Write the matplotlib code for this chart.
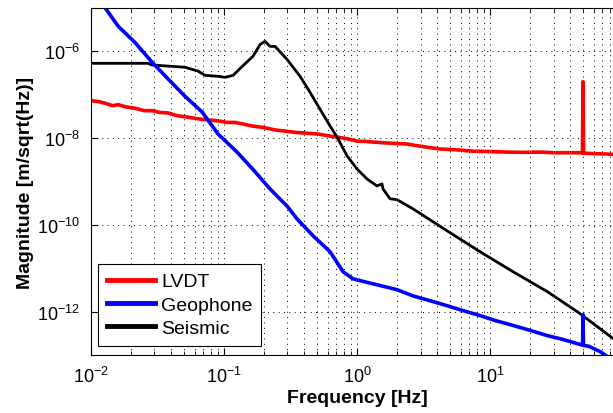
import matplotlib.pyplot as plt
from matplotlib.ticker import LogLocator, NullFormatter, NullLocator

plt.rcParams['font.family'] = ['Liberation Sans', 'DejaVu Sans']

# LVDT noise (red)
lvdt_f = [0.0100, 0.0115, 0.0127, 0.0145, 0.0160, 0.0185, 0.0214, 0.0250, 0.0288,
          0.0330, 0.0380, 0.0440, 0.0509, 0.0590, 0.0684, 0.0790, 0.0902, 0.105,
          0.121, 0.140, 0.163, 0.200, 0.240, 0.288, 0.350, 0.420, 0.509, 0.620,
          0.745, 0.870, 1.00, 1.15, 1.32, 1.70, 2.38, 3.10, 4.21, 5.50, 7.45,
          10.0, 13.4, 17.5, 23.8, 31.0, 42.1, 49.5, 50.0, 50.5, 60.0, 75.9, 100.0]
lvdt_m = [7.3e-8, 6.9e-8, 6.4e-8, 5.6e-8, 5.9e-8, 5.2e-8, 4.9e-8, 4.3e-8, 4.3e-8,
          3.9e-8, 3.8e-8, 3.3e-8, 3.1e-8, 2.9e-8, 2.7e-8, 2.6e-8, 2.5e-8, 2.3e-8,
          2.3e-8, 2.1e-8, 1.9e-8, 1.75e-8, 1.55e-8, 1.45e-8, 1.35e-8, 1.3e-8, 1.24e-8, 1.12e-8,
          1.03e-8, 9.5e-9, 8.5e-9, 8.4e-9, 8.1e-9, 7.7e-9, 7.3e-9, 6.4e-9, 5.6e-9, 5.4e-9, 5.0e-9,
          4.9e-9, 4.76e-9, 4.7e-9, 4.76e-9, 4.6e-9, 4.6e-9, 4.6e-9, 2.0e-7, 4.5e-9, 4.4e-9, 4.3e-9, 4.1e-9]

# Geophone noise (blue)
geo_f = [0.0100, 0.0127, 0.0160, 0.0214, 0.0288, 0.0380, 0.0509, 0.0684, 0.0902,
         0.125, 0.165, 0.222, 0.298, 0.354, 0.467, 0.627, 0.785, 0.933, 1.20,
         1.49, 2.00, 2.64, 3.50, 4.75, 6.30, 8.41, 11.0, 14.9, 20.0, 26.9, 35.0,
         47.5, 49.6, 50.0, 50.4, 55.0, 67.1, 75.9, 100.0]
geo_m = [2.4e-5, 1.03e-5, 3.8e-6, 1.6e-6, 5.6e-7, 2.3e-7, 9.2e-8, 4.0e-8, 1.24e-8,
         4.8e-9, 1.9e-9, 6.7e-10, 2.7e-10, 1.37e-10, 5.6e-11, 2.4e-11, 8.3e-12, 5.7e-12, 4.7e-12,
         4.0e-12, 3.2e-12, 2.3e-12, 1.8e-12, 1.37e-12, 1.05e-12, 8.1e-13, 6.2e-13, 4.8e-13, 3.7e-13, 2.8e-13, 2.3e-13,
         1.75e-13, 1.7e-13, 8.5e-13, 1.65e-13, 1.6e-13, 1.2e-13, 9.3e-14, 7.0e-14]

# Seismic spectrum (black)
seis_f = [0.0100, 0.0268, 0.0288, 0.0509, 0.0638, 0.0720, 0.0902, 0.102, 0.117,
          0.137, 0.165, 0.187, 0.203, 0.222, 0.242, 0.298, 0.373, 0.443, 0.528,
          0.627, 0.708, 0.841, 1.00, 1.19, 1.41, 1.54, 1.57, 1.77, 2.00, 2.64,
          4.75, 8.41, 14.9, 26.9, 47.5, 84.1, 100.0]
seis_m = [5.3e-7, 5.3e-7, 4.85e-7, 4.3e-7, 3.5e-7, 2.8e-7, 2.66e-7, 2.52e-7, 2.8e-7,
          4.5e-7, 7.7e-7, 1.45e-6, 1.7e-6, 1.3e-6, 1.3e-6, 6.5e-7, 2.66e-7, 1.14e-7, 4.6e-8,
          1.9e-8, 1.05e-8, 3.9e-9, 1.94e-9, 1.14e-9, 7.9e-10, 8.8e-10, 6.7e-10, 4.0e-10, 3.8e-10, 2.33e-10,
          7.3e-11, 2.4e-11, 8.3e-12, 2.9e-12, 9.0e-13, 2.4e-13, 1.7e-13]

labels = ['LVDT', 'Geophone', 'Seismic']
colors = ['#ff0000', '#0000ff', '#000000']
xticks = [1e-2, 1e-1, 1e0, 1e1]
yticks = [1e-12, 1e-10, 1e-8, 1e-6]

fig = plt.figure(figsize=(6.13, 4.14), dpi=100)
# axes run past the right edge of the picture, as in the cropped original
ax = fig.add_axes([0.1485, 0.1401, 0.8679, 0.8382])

l1, = ax.loglog(lvdt_f, lvdt_m, color=colors[0], lw=2.6, label=labels[0])
l3, = ax.loglog(seis_f, seis_m, color=colors[2], lw=2.0, label=labels[2])
l2, = ax.loglog(geo_f, geo_m, color=colors[1], lw=2.6, label=labels[1])

ax.set_xlim(1e-2, 1e2)
ax.set_ylim(1e-13, 1e-5)
ax.set_xticks(xticks)
ax.set_yticks(yticks)
ax.yaxis.set_minor_locator(NullLocator())
ax.xaxis.set_minor_locator(LogLocator(base=10, subs=range(2, 10), numticks=20))
ax.xaxis.set_minor_formatter(NullFormatter())

ax.grid(True, which='major', axis='both', linestyle=(0, (1, 4.5)), color='black', lw=0.7)
ax.grid(True, which='minor', axis='x', linestyle=(0, (1, 4.5)), color='black', lw=0.7)
ax.tick_params(which='both', direction='in', top=True, right=True, labelsize=13, pad=8)
ax.tick_params(which='major', length=5)
ax.tick_params(which='minor', length=3)

ax.set_xlabel('Frequency [Hz]', fontsize=14, fontweight='bold', labelpad=2)
ax.set_ylabel('Magnitude [m/sqrt(Hz)]', fontsize=14, fontweight='bold', labelpad=2)

leg = ax.legend(handles=[l1, l2, l3], loc='lower left', fontsize=14, fancybox=False,
                framealpha=1, edgecolor='black', handlelength=2.5, handletextpad=0.3,
                labelspacing=0.3, borderpad=0.45, borderaxespad=0,
                bbox_to_anchor=(0.013, 0.026))
leg.get_frame().set_linewidth(0.8)
for h in leg.legend_handles:
    h.set_linewidth(3.5)

fig.savefig('out.png', dpi=100)
